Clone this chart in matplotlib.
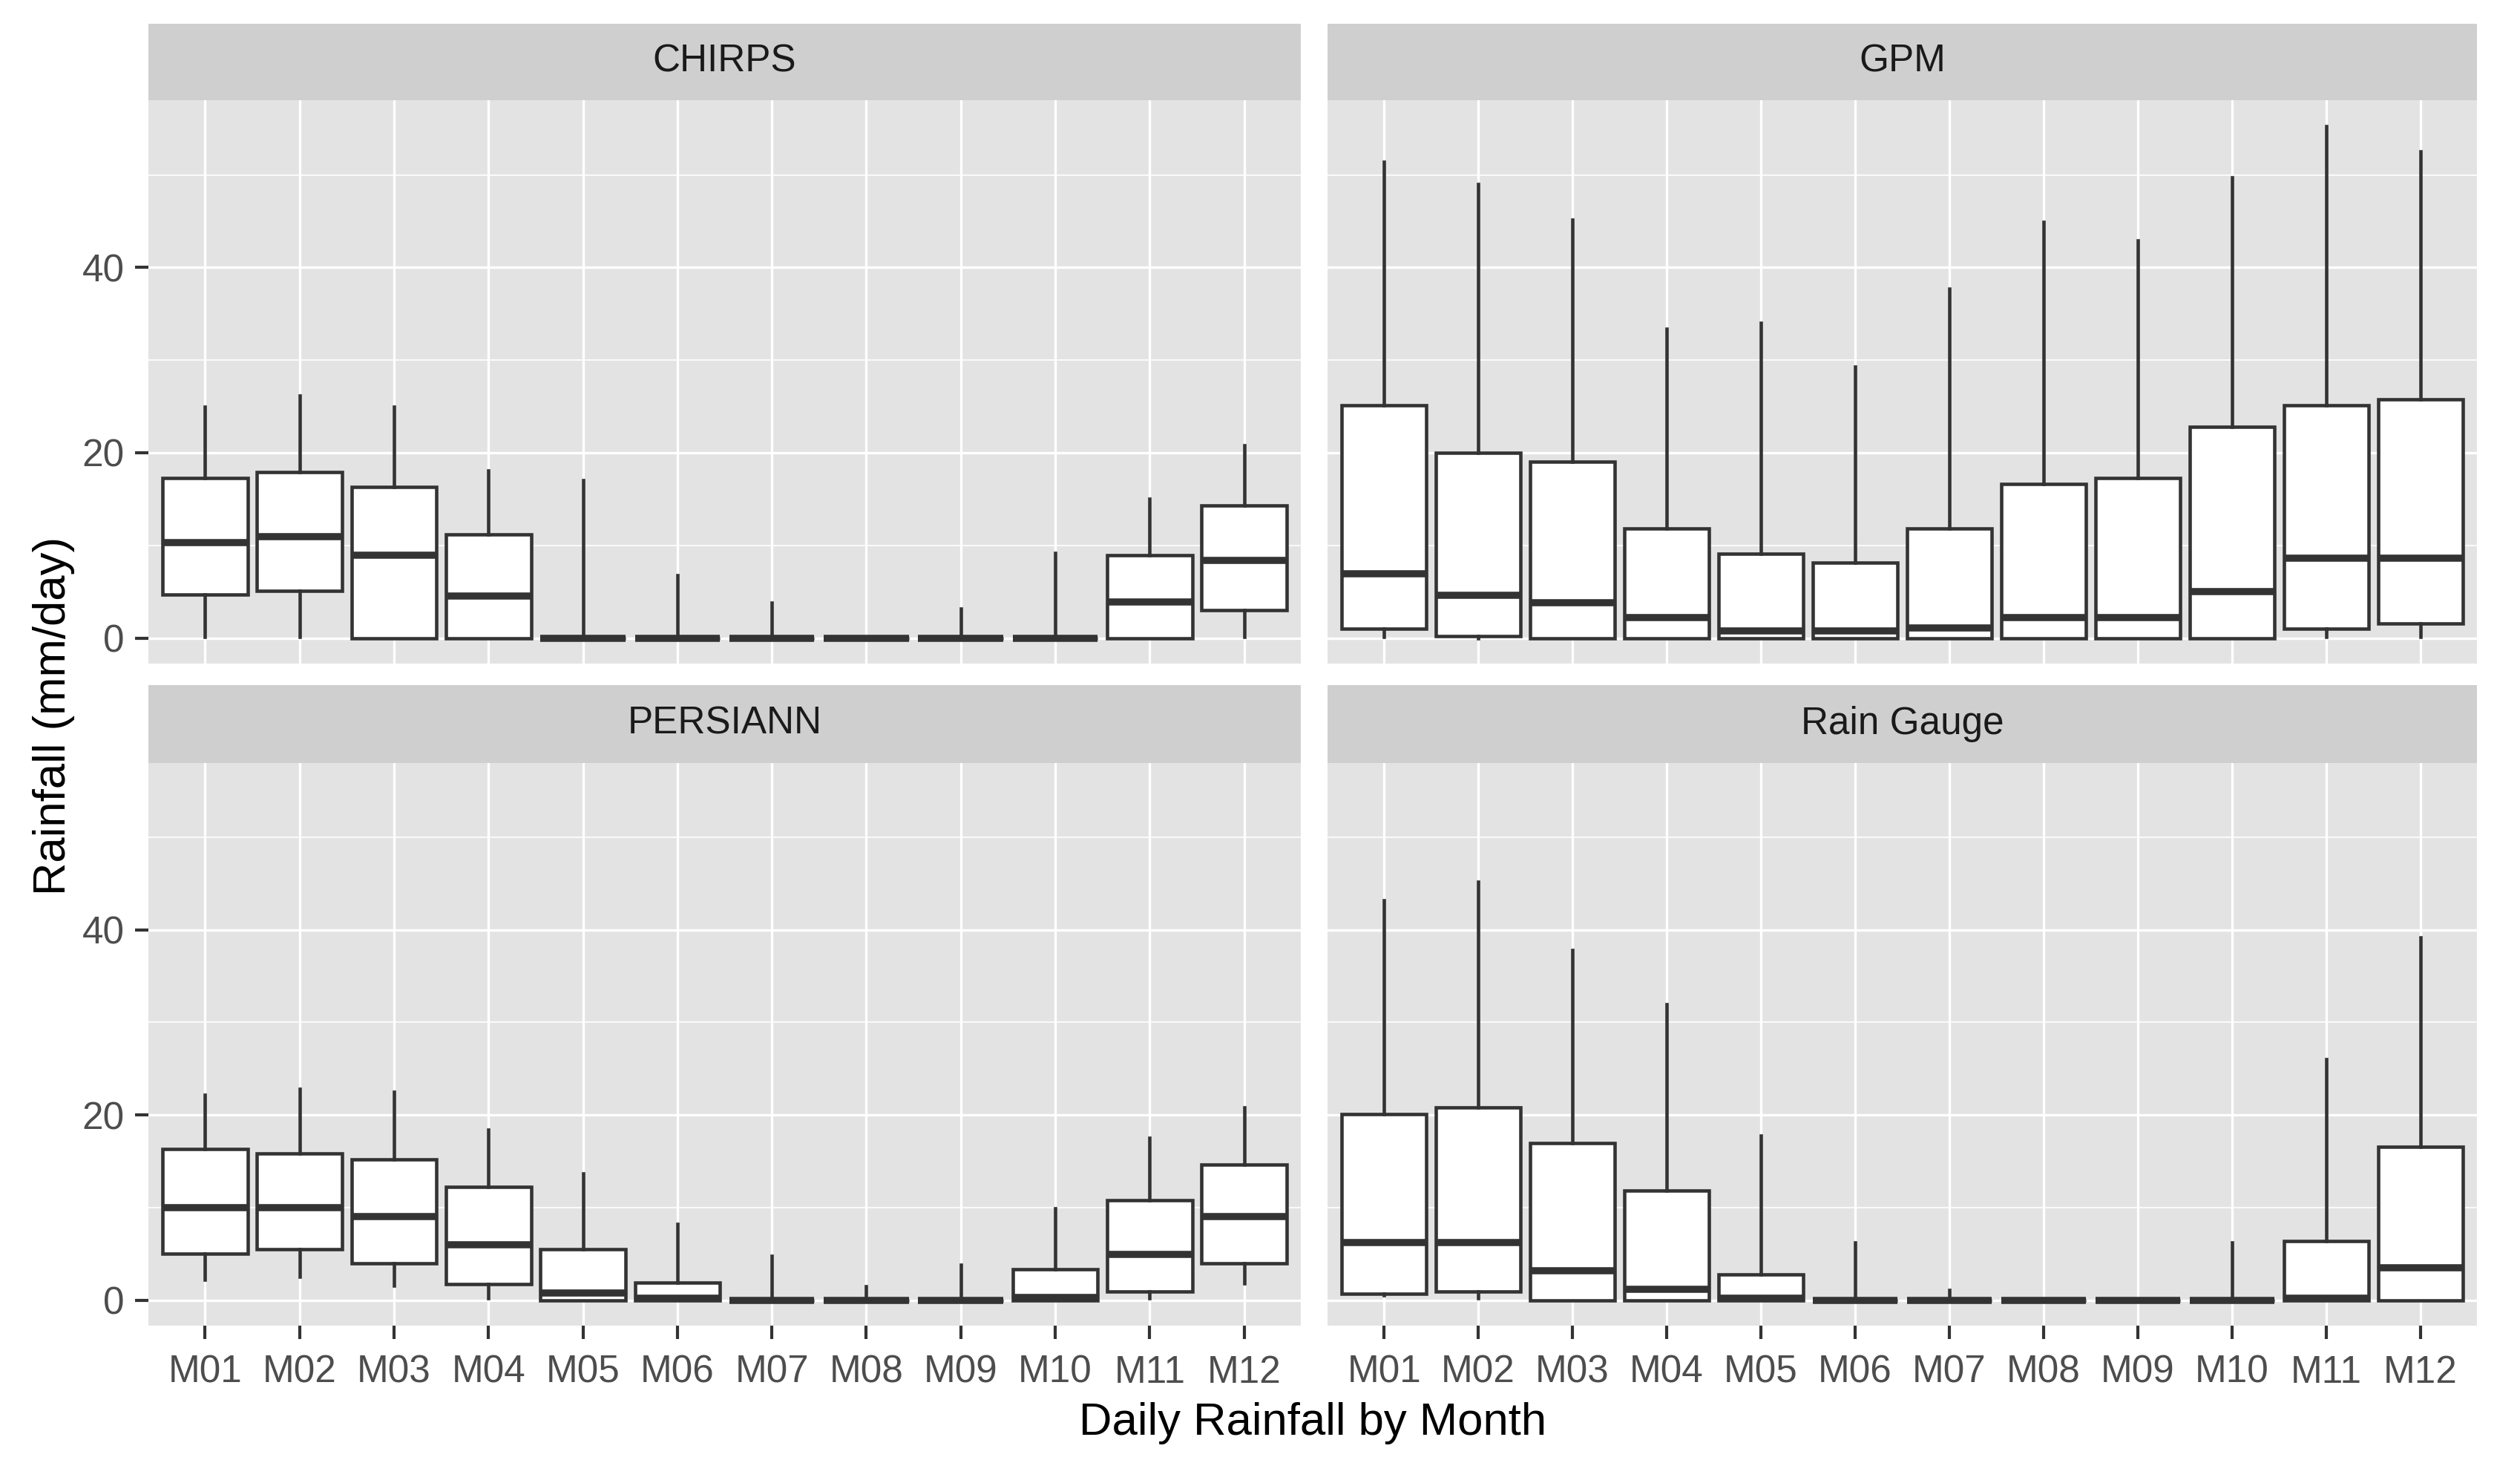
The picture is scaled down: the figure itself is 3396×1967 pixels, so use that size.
import matplotlib
matplotlib.use("Agg")
import matplotlib.pyplot as plt
import numpy as np

plt.rcParams['font.family'] = ['Liberation Sans', 'DejaVu Sans']

months = ['M01', 'M02', 'M03', 'M04', 'M05', 'M06',
          'M07', 'M08', 'M09', 'M10', 'M11', 'M12']
sources = ['CHIRPS', 'GPM', 'PERSIANN', 'Rain Gauge']

# box stats per month: lower whisker, q1, median, q3, upper whisker (mm/day)
chirps_lo = [0.1, 0.1, 0, 0, 0, 0, 0, 0, 0, 0, 0, 0.1]
chirps_q1 = [4.7, 5.1, 0, 0, 0, 0, 0, 0, 0, 0, 0, 3.0]
chirps_med = [10.3, 10.9, 8.9, 4.5, 0, 0, 0, 0, 0, 0, 3.9, 8.4]
chirps_q3 = [17.3, 17.9, 16.3, 11.2, 0, 0, 0, 0, 0, 0, 8.9, 14.3]
chirps_hi = [25.0, 26.2, 25.0, 18.1, 17.0, 6.8, 3.8, 0, 3.2, 9.2, 15.0, 20.8]

gpm_lo = [0.1, 0, 0, 0, 0, 0, 0, 0, 0, 0, 0.1, 0.1]
gpm_q1 = [1.0, 0.2, 0, 0, 0, 0, 0, 0, 0, 0, 1.0, 1.6]
gpm_med = [6.9, 4.6, 3.8, 2.2, 0.8, 0.8, 1.1, 2.2, 2.2, 5.0, 8.6, 8.6]
gpm_q3 = [25.1, 20.0, 19.0, 11.8, 9.1, 8.1, 11.8, 16.6, 17.3, 22.8, 25.1, 25.8]
gpm_hi = [51.4, 49.0, 45.2, 33.4, 34.0, 29.3, 37.7, 44.9, 42.9, 49.7, 55.3, 52.5]

persiann_lo = [2.2, 2.5, 1.6, 0.2, 0, 0, 0, 0, 0, 0, 0.2, 1.8]
persiann_q1 = [5.05, 5.5, 4.0, 1.7, 0, 0, 0, 0, 0, 0, 0.9, 4.0]
persiann_med = [10.0, 10.0, 9.0, 6.0, 0.8, 0.2, 0, 0, 0, 0.3, 4.9, 9.0]
persiann_q3 = [16.3, 15.85, 15.2, 12.2, 5.5, 1.9, 0, 0, 0, 3.35, 10.8, 14.6]
persiann_hi = [22.2, 22.8, 22.5, 18.4, 13.7, 8.2, 4.8, 1.5, 3.8, 9.9, 17.5, 20.8]

gauge_lo = [0.5, 0.2, 0, 0, 0, 0, 0, 0, 0, 0, 0, 0]
gauge_q1 = [0.7, 0.9, 0, 0, 0, 0, 0, 0, 0, 0, 0, 0]
gauge_med = [6.2, 6.2, 3.2, 1.15, 0.2, 0, 0, 0, 0, 0, 0.2, 3.5]
gauge_q3 = [20.1, 20.8, 17.0, 11.85, 2.75, 0, 0, 0, 0, 0, 6.4, 16.6]
gauge_hi = [43.2, 45.2, 37.8, 32.0, 17.8, 6.2, 1.1, 0, 0, 6.2, 26.0, 39.2]

stats_by_source = {
    'CHIRPS': (chirps_lo, chirps_q1, chirps_med, chirps_q3, chirps_hi),
    'GPM': (gpm_lo, gpm_q1, gpm_med, gpm_q3, gpm_hi),
    'PERSIANN': (persiann_lo, persiann_q1, persiann_med, persiann_q3, persiann_hi),
    'Rain Gauge': (gauge_lo, gauge_q1, gauge_med, gauge_q3, gauge_hi),
}

W, H = 3396, 1967
fig = plt.figure(figsize=(W / 300, H / 300), dpi=300)
fig.patch.set_facecolor('white')


def box_frac(x0, x1, ytop, ybot):
    # pixel box -> figure fraction [left, bottom, width, height]
    return [x0 / W, 1 - ybot / H, (x1 - x0) / W, (ybot - ytop) / H]


cols = [(200, 1753), (1789, 3338)]
rows = [(31.6, 135, 894), (923, 1027.5, 1786)]  # strip top, panel top, panel bottom

ymax = max(max(s[4]) for s in stats_by_source.values())
ylim = (-0.05 * ymax, 1.05 * ymax)
pos = np.arange(1, len(months) + 1)

panel_bg = '#E3E3E3'
strip_bg = '#CFCFCF'
line_col = '#333333'

for k, src in enumerate(sources):
    r, c = divmod(k, 2)
    x0, x1 = cols[c]
    st, pt, pb = rows[r]

    sax = fig.add_axes(box_frac(x0, x1, st, pt))
    sax.set_facecolor(strip_bg)
    sax.set_xticks([])
    sax.set_yticks([])
    for sp in sax.spines.values():
        sp.set_visible(False)
    sax.text(0.5, 0.5, src, ha='center', va='center', fontsize=12.3,
             color='#1A1A1A', transform=sax.transAxes)

    ax = fig.add_axes(box_frac(x0, x1, pt, pb))
    ax.set_facecolor(panel_bg)
    for sp in ax.spines.values():
        sp.set_visible(False)

    lo, q1, med, q3, hi = stats_by_source[src]
    bstats = []
    for i in range(len(months)):
        bstats.append({'whislo': lo[i], 'q1': q1[i], 'med': med[i],
                       'q3': q3[i], 'whishi': hi[i], 'fliers': []})
    ax.bxp(bstats, positions=pos, widths=0.9, showcaps=False,
           showfliers=False, patch_artist=True,
           boxprops=dict(facecolor='white', edgecolor=line_col, linewidth=1.1),
           medianprops=dict(color=line_col, linewidth=2.3, solid_capstyle='butt'),
           whiskerprops=dict(color=line_col, linewidth=1.1))

    ax.set_xlim(0.4, 12.6)
    ax.set_ylim(*ylim)
    ax.set_yticks([0, 20, 40])
    ax.set_yticks([10, 30, 50], minor=True)
    ax.set_xticks(pos)
    ax.grid(True, which='major', color='white', linewidth=0.8)
    ax.grid(True, which='minor', axis='y', color='white', linewidth=0.4)
    ax.set_axisbelow(True)
    ax.tick_params(which='minor', length=0)
    ax.tick_params(which='major', length=4.3, width=1.0, color=line_col,
                   labelcolor='#4D4D4D', labelsize=12.3)
    ax.tick_params(axis='x', pad=5.0)
    ax.tick_params(axis='y', pad=3.4)

    if r == 1:
        ax.set_xticklabels(months)
    else:
        ax.tick_params(axis='x', length=0, labelbottom=False)
    if c == 1:
        ax.tick_params(axis='y', length=0, labelleft=False)

fig.text(1769 / W, 1 - 1933 / H, 'Daily Rainfall by Month', ha='center',
         va='baseline', fontsize=14.8, color='black')
fig.text(88 / W, 1 - 964 / H, 'Rainfall (mm/day)', ha='center', va='baseline',
         rotation=90, rotation_mode='anchor', fontsize=14.8, color='black')

fig.savefig('out.png', dpi=300)
